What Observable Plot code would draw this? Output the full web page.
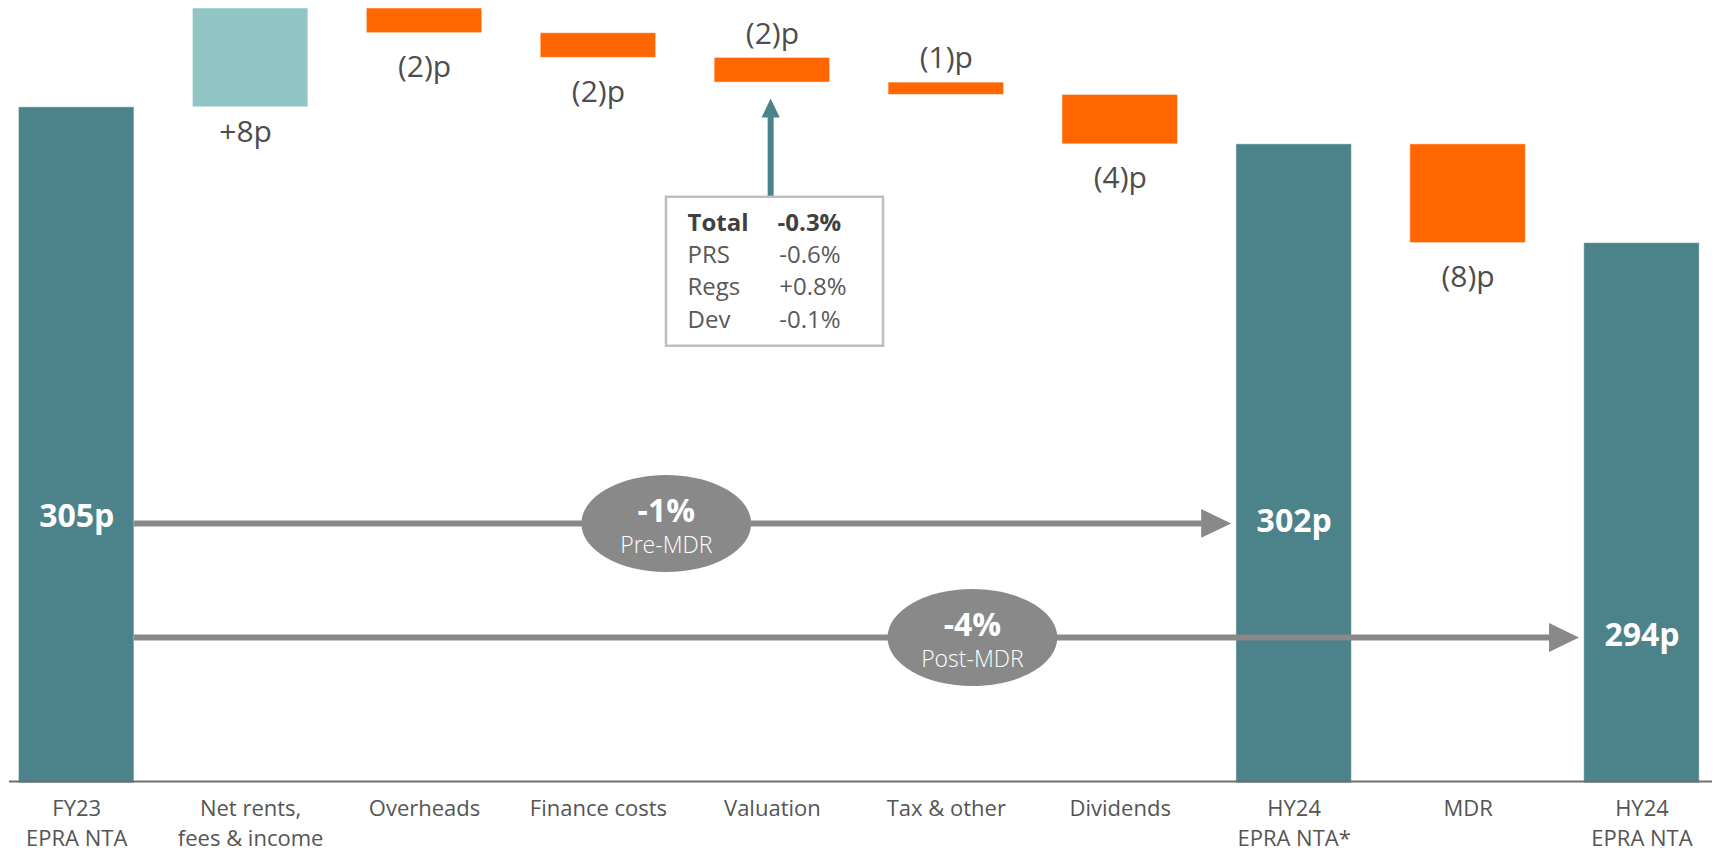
<!DOCTYPE html>
<html>
<head>
<meta charset="utf-8">
<script src="https://cdn.jsdelivr.net/npm/d3@7"></script>
<script src="https://cdn.jsdelivr.net/npm/@observablehq/plot@0.6"></script>
<style>
  html, body { margin: 0; padding: 0; background: #ffffff; }
  #chart svg { display: block; }
</style>
</head>
<body>
<div id="chart"></div>
<script>
// ---------------- data ----------------
const categories = [
  "FY23\nEPRA NTA", "Net rents,\nfees & income", "Overheads", "Finance costs",
  "Valuation", "Tax & other", "Dividends", "HY24\nEPRA NTA*", "MDR", "HY24\nEPRA NTA"
];
const values = [305, 8, -2, -2, -2, -1, -4, 302, -8, 294];
const isTotal = [true, false, false, false, false, false, false, true, false, true];
const valueLabels = ["305p", "+8p", "(2)p", "(2)p", "(2)p", "(1)p", "(4)p", "302p", "(8)p", "294p"];

const calloutNames = ["Total", "PRS", "Regs", "Dev"];
const calloutValues = ["-0.3%", "-0.6%", "+0.8%", "-0.1%"];

const changeLabels = ["-1%", "-4%"];
const changeNotes = ["Pre-MDR", "Post-MDR"];
const changeFrom = [0, 0];
const changeTo = [7, 9];

// ---------------- layout / style ----------------
const TEAL = "#4c838a", LIGHT = "#91c4c5", ORANGE = "#ff6600", GREY = "#898989";
const Y_MIN = 250.4, Y_MAX = 313;
const HW = 0.332;            // half bar width (in category units)
const GAP = 0.03;            // gap between arrow tip and bar
const HEAD = 0.1725;         // arrow head length (category units)
const labelAbove = new Set([4, 5]);
const totalLabelY = {0: 271.8, 7: 271.4, 9: 262.2};
const changeY = [271.3, 262.06];
const changeAt = [3.39, 5.15];
const callout = {x: 4.015, half: 0.624, top: 297.71, bottom: 285.65, textTop: 296.4, colL: 3.512, colR: 4.03};
const upArrow = {x: 3.99, headY: 304.94};

// waterfall rows
let run = 0;
const rows = values.map((v, i) => {
  let y1, y2, color;
  if (isTotal[i]) { y1 = Y_MIN - 0.15; y2 = v; run = v; color = TEAL; }
  else { y1 = run; y2 = run + v; run = run + v; color = v > 0 ? LIGHT : ORANGE; }
  return {i, v, y1, y2, lo: Math.min(y1, y2), hi: Math.max(y1, y2), color, label: valueLabels[i], total: isTotal[i]};
});
const deltas = rows.filter(d => !d.total);
const totals = rows.filter(d => d.total);

const changes = changeLabels.map((l, k) => ({
  label: l, note: changeNotes[k], y: changeY[k], at: changeAt[k],
  x1: changeFrom[k] + HW, tip: changeTo[k] - HW - GAP
}));

const line1 = i => categories[i].split("\n")[0];
const line2 = i => categories[i].split("\n")[1] || "";

// custom symbols
const triangle = {
  draw(ctx, size) {
    const r = Math.sqrt(size / Math.PI), k = 0.96;
    ctx.moveTo(r, 0); ctx.lineTo(-r, -k * r); ctx.lineTo(-r, k * r); ctx.closePath();
  }
};
const ellipse = {
  draw(ctx, size) {
    const ry = Math.sqrt(size / Math.PI), rx = ry * 1.75, c = 0.5523;
    ctx.moveTo(rx, 0);
    ctx.bezierCurveTo(rx, c * ry, c * rx, ry, 0, ry);
    ctx.bezierCurveTo(-c * rx, ry, -rx, c * ry, -rx, 0);
    ctx.bezierCurveTo(-rx, -c * ry, -c * rx, -ry, 0, -ry);
    ctx.bezierCurveTo(c * rx, -ry, rx, -c * ry, rx, 0);
    ctx.closePath();
  }
};

const chart = Plot.plot({
  width: 1717,
  height: 853,
  marginTop: 8,
  marginBottom: 72,
  marginLeft: 0,
  marginRight: 0,
  x: {type: "linear", domain: [-0.4381, 9.4342]},
  y: {domain: [Y_MIN, Y_MAX], axis: null},
  color: {type: "identity"},
  style: {fontFamily: "'Open Sans', sans-serif", background: "#ffffff"},
  marks: [
    // bars
    Plot.rectY(rows, {x1: d => d.i - HW, x2: d => d.i + HW, y1: "y1", y2: "y2", fill: "color",
      stroke: "#ffffff", strokeOpacity: 0.5, strokeWidth: 1}),
    // baseline
    Plot.ruleY([Y_MIN], {stroke: "#6e6e6e", strokeWidth: 2, insetLeft: 9, insetRight: 5}),
    // category axis (two lines)
    Plot.axisX({ticks: d3.range(categories.length), tickFormat: line1, tickSize: 0,
      tickPadding: 19, fontSize: 22, fill: "#555555", color: "#555555"}),
    Plot.axisX({ticks: d3.range(categories.length).filter(i => line2(i)), tickFormat: line2, tickSize: 0,
      tickPadding: 48.5, fontSize: 22, fill: "#555555", color: "#555555"}),
    // callout box and arrow
    Plot.ruleX([upArrow.x], {y1: callout.top, y2: upArrow.headY, stroke: TEAL, strokeWidth: 6}),
    Plot.dot([upArrow.x], {x: d => d, y: upArrow.headY, symbol: triangle, r: 9.5, rotate: -90, fill: TEAL, stroke: "none"}),
    Plot.rect([callout], {x1: d => d.x - d.half, x2: d => d.x + d.half, y1: "bottom", y2: "top",
      fill: "#ffffff", stroke: "#bfbfbf", strokeWidth: 2.5}),
    Plot.text([calloutNames[0]], {x: callout.colL, y: callout.textTop, text: d => d, textAnchor: "start",
      lineAnchor: "top", fontSize: 24, fontWeight: 700, fill: "#404040"}),
    Plot.text([calloutValues[0]], {x: callout.colR, y: callout.textTop, text: d => d, textAnchor: "start",
      lineAnchor: "top", fontSize: 24, fontWeight: 700, fill: "#404040"}),
    Plot.text([calloutNames.slice(1).join("\n")], {x: callout.colL, y: callout.textTop, dy: 26, text: d => d,
      textAnchor: "start", lineAnchor: "top", lineHeight: 1.36, fontSize: 24, fill: "#595959"}),
    Plot.text([calloutValues.slice(1).join("\n")], {x: callout.colR + 0.01, y: callout.textTop, dy: 26, text: d => d,
      textAnchor: "start", lineAnchor: "top", lineHeight: 1.36, fontSize: 24, fill: "#595959"}),
    // change arrows
    Plot.ruleY(changes, {y: "y", x1: "x1", x2: d => d.tip - HEAD / 2, stroke: GREY, strokeWidth: 6}),
    Plot.dot(changes, {x: d => d.tip - HEAD / 2, y: "y", symbol: triangle, r: 15, fill: GREY, stroke: "none"}),
    Plot.dot(changes, {x: "at", y: "y", symbol: ellipse, r: 48.5, fill: GREY, stroke: "none"}),
    Plot.text(changes, {x: "at", y: "y", text: "label", dy: -12, fontSize: 32, fontWeight: 700, fill: "#ffffff"}),
    Plot.text(changes, {x: "at", y: "y", text: "note", dy: 22, fontSize: 23, fontWeight: 300, fill: "#ffffff"}),
    // total labels
    Plot.text(totals, {x: "i", y: d => totalLabelY[d.i], text: "label", fontSize: 32, fontWeight: 700, fill: "#ffffff"}),
    // delta labels
    Plot.text(deltas.filter(d => d.v > 0), {x: "i", y: "lo", text: "label", dy: 25, dx: -5, fontSize: 30, fill: "#4d4d4d"}),
    Plot.text(deltas.filter(d => d.v < 0 && !labelAbove.has(d.i)), {x: "i", y: "lo", text: "label", dy: 34, fontSize: 30, fill: "#4d4d4d"}),
    Plot.text(deltas.filter(d => labelAbove.has(d.i)), {x: "i", y: "hi", text: "label", dy: -24, fontSize: 30, fill: "#4d4d4d"})
  ]
});
document.getElementById("chart").appendChild(chart);
</script>
</body>
</html>
